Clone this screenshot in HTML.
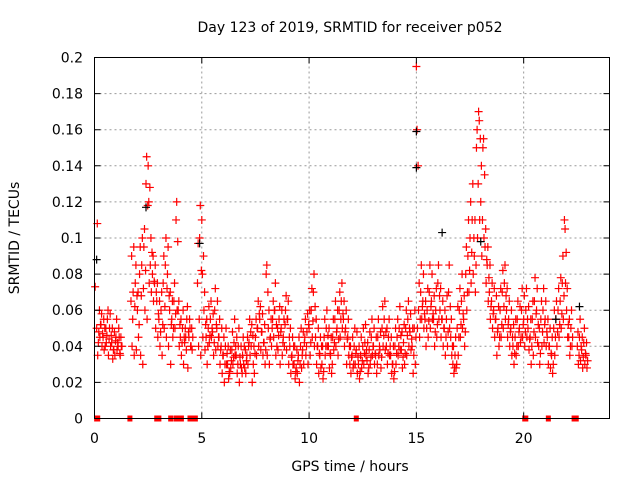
<!DOCTYPE html>
<html><head><meta charset="utf-8"><style>
body{margin:0;background:#fff;}
svg{display:block;font-family:"DejaVu Sans","Liberation Sans",sans-serif;}
</style></head><body>
<svg id="chart" width="640" height="480">
<text x="350" y="32" text-anchor="middle" font-size="14">Day 123 of 2019, SRMTID for receiver p052</text>
<text x="350" y="471" text-anchor="middle" font-size="14">GPS time / hours</text>
<text transform="translate(19,238) rotate(-90)" text-anchor="middle" font-size="14">SRMTID / TECUs</text>
<g id="grid"></g><g id="marks"></g>
<rect x="94.5" y="57.5" width="515" height="361" fill="none" stroke="#000"/>
<g id="axes"></g>
</svg>
<script>
// values in units of 0.001 TECU; A at t=i*0.1, B at +0.05, C at +0.03, D at +0.08
const seriesA=[null,50,48,52,45,40,55,50,42,38,45,40,35,null,null,null,null,65,70,75,60,80,85,95,130,140,85,80,75,65,55,60,75,85,80,60,55,65,110,60,45,50,42,55,45,40,null,null,75,100,110,60,45,50,55,48,60,50,45,40,35,40,30,25,38,42,35,40,30,35,28,35,42,40,30,45,50,55,48,42,80,50,45,55,60,40,55,50,45,60,55,40,35,30,28,35,40,38,45,48,50,60,70,45,40,35,30,45,50,40,35,45,55,50,60,65,55,50,45,30,35,40,38,30,35,40,42,32,38,45,40,35,45,38,50,55,40,45,35,30,40,45,50,38,42,50,55,48,40,50,195,60,70,65,55,60,70,65,55,60,75,60,55,50,55,70,45,30,35,50,60,65,55,80,90,100,110,90,150,170,120,150,95,85,70,65,60,55,50,60,70,75,60,55,50,40,45,55,50,60,55,60,50,45,55,65,60,40,55,60,55,45,40,35,50,55,60,65,75,110,60,45,50,null,null,40,45,38,42,35];
const seriesB=[null,35,45,40,38,42,35,40,33,35,38,45,40,null,null,null,null,40,35,38,45,35,30,60,55,75,70,65,50,45,40,35,50,45,40,30,45,50,60,40,35,30,45,28,50,38,null,null,40,35,45,38,30,42,45,35,38,40,30,25,20,30,22,28,30,35,25,20,28,30,25,30,35,20,25,35,40,38,35,30,35,30,40,45,35,38,30,35,40,38,30,25,30,22,25,20,28,30,35,30,35,45,40,30,25,28,22,35,40,28,25,38,40,35,45,50,40,30,35,25,28,30,25,22,28,30,35,25,30,35,30,25,35,28,40,38,30,35,25,22,30,35,38,28,30,35,40,38,25,30,50,45,55,50,40,45,50,55,40,45,55,45,40,35,40,50,35,25,28,35,45,50,40,60,70,75,80,70,100,110,90,100,75,65,55,50,45,35,40,45,50,55,45,40,35,30,35,40,42,45,40,45,38,30,35,45,42,30,40,42,40,30,28,25,35,40,45,50,55,75,45,35,40,null,null,30,32,28,30,28];
const seriesC=[73,108,60,58,55,50,60,58,50,48,55,50,45,null,null,null,null,90,95,85,70,95,100,105,145,120,100,90,85,75,65,70,90,100,95,70,65,75,120,65,55,60,50,62,55,50,null,null,97,118,80,70,55,62,65,58,72,65,55,50,45,50,40,38,48,55,45,50,40,45,38,45,55,52,40,55,65,62,58,52,85,60,55,65,75,50,62,60,55,68,65,50,45,40,38,45,50,48,55,58,60,72,80,55,50,45,40,55,60,50,45,55,65,60,70,75,65,60,55,40,45,50,48,40,45,50,52,42,48,55,50,45,55,48,62,65,50,55,45,40,50,55,62,48,52,60,65,58,50,60,160,75,85,80,65,72,85,80,68,72,85,72,65,60,68,85,55,40,45,62,72,80,68,95,110,120,130,110,160,165,140,155,105,95,85,75,72,68,62,72,82,85,72,65,60,52,55,65,62,72,68,72,62,55,65,78,72,50,65,72,65,55,50,45,60,65,72,78,90,105,72,55,60,null,null,48,55,45,50,42];
const seriesD=[null,42,52,47,50,46,44,46,38,43,42,36,40,null,null,null,null,55,62,68,52,68,72,82,118,128,92,76,70,58,48,52,62,72,68,52,50,58,98,52,42,45,38,48,40,45,null,null,55,82,90,52,40,46,50,42,52,45,38,35,30,36,26,32,34,40,30,34,25,40,32,40,48,46,36,50,58,48,42,38,70,44,50,60,52,46,48,42,52,55,45,34,40,26,32,30,35,42,40,52,42,54,62,40,36,40,26,40,46,36,30,42,48,44,55,58,48,44,40,34,30,36,34,26,32,36,38,28,34,40,36,30,40,34,46,48,36,40,30,26,36,40,46,34,36,46,50,44,35,45,140,55,62,58,50,54,62,58,48,52,68,55,50,45,48,62,40,28,30,45,52,58,48,70,82,92,100,85,130,155,110,135,88,78,62,58,55,48,45,52,62,68,52,48,45,36,40,48,45,52,48,55,44,40,48,58,52,36,48,52,48,40,36,30,45,48,52,58,68,92,52,40,45,null,null,35,40,34,36,32];
const zeroTimes=[0.1,0.15,1.65,2.9,3.0,3.55,3.8,3.9,4.05,4.45,4.6,4.7,12.2,20.05,20.1,21.15,22.35,22.45];
const blackTimes=[0.1,2.4,15.0,15.0,18.0,4.9,16.2,21.5,22.6];
const blackVals=[88,117,159,139,98,97,103,55,62];
const xTicks=[0,5,10,15,20];
const yTicks=[0,0.02,0.04,0.06,0.08,0.1,0.12,0.14,0.16,0.18,0.2];
const yTickLabels=["0","0.02","0.04","0.06","0.08","0.1","0.12","0.14","0.16","0.18","0.2"];

const X0=94.5,X1=609.5,Y0=418.5,Y1=57.5,XMAX=24,YMAX=0.2;
const xs=t=>X0+(X1-X0)*t/XMAX, ys=v=>Y0-(Y0-Y1)*v/YMAX;
const NS="http://www.w3.org/2000/svg";
const grid=document.getElementById('grid'),marks=document.getElementById('marks'),axes=document.getElementById('axes');
function mk(tag,attrs,parent){const e=document.createElementNS(NS,tag);for(const k in attrs)e.setAttribute(k,attrs[k]);parent.appendChild(e);return e;}
xTicks.forEach(t=>{const x=xs(t);
 if(t>0){const g=mk('line',{x1:x,x2:x,y1:Y0,y2:Y1,stroke:'#999','stroke-dasharray':'2,3'},grid);
 
 }
 const tk=mk('path',{d:`M${x},${Y0}v-6M${x},${Y1}v6`,stroke:'#000'},axes);
 
 
 const l=mk('text',{x:x,y:443,'text-anchor':'middle','font-size':14},axes);l.textContent=t;
 
 
});
yTicks.forEach((v,i)=>{const y=ys(v);
 if(v>0&&v<YMAX){const g=mk('line',{x1:X0,x2:X1,y1:y,y2:y,stroke:'#999','stroke-dasharray':'2,3'},grid);
 
 }
 const tk=mk('path',{d:`M${X0},${y}h6M${X1},${y}h-6`,stroke:'#000'},axes);
 
 
 const l=mk('text',{x:83,y:y+5,'text-anchor':'end','font-size':14},axes);l.textContent=yTickLabels[i];
 
 
});
function plus(t,v,color,name){const x=xs(t),y=ys(v);
 const p=mk('path',{d:`M${x-4},${y}h8M${x},${y-4}v8`,stroke:color,'stroke-width':1.2},marks);
 
 }
[[seriesA,0],[seriesB,0.05],[seriesC,0.03],[seriesD,0.08]].forEach(([arr,off])=>{
 arr.forEach((v,i)=>{if(v!==null)plus(i*0.1+off,v/1000,'#f00','srmtid-point');});
});
blackTimes.forEach((t,i)=>plus(t,blackVals[i]/1000,'#000','black-point'));
zeroTimes.forEach(t=>{const r=mk('rect',{x:xs(t)-2.5,y:Y0-3,width:5,height:6,fill:'#f00'},marks);
 
 });
</script>
</body></html>
